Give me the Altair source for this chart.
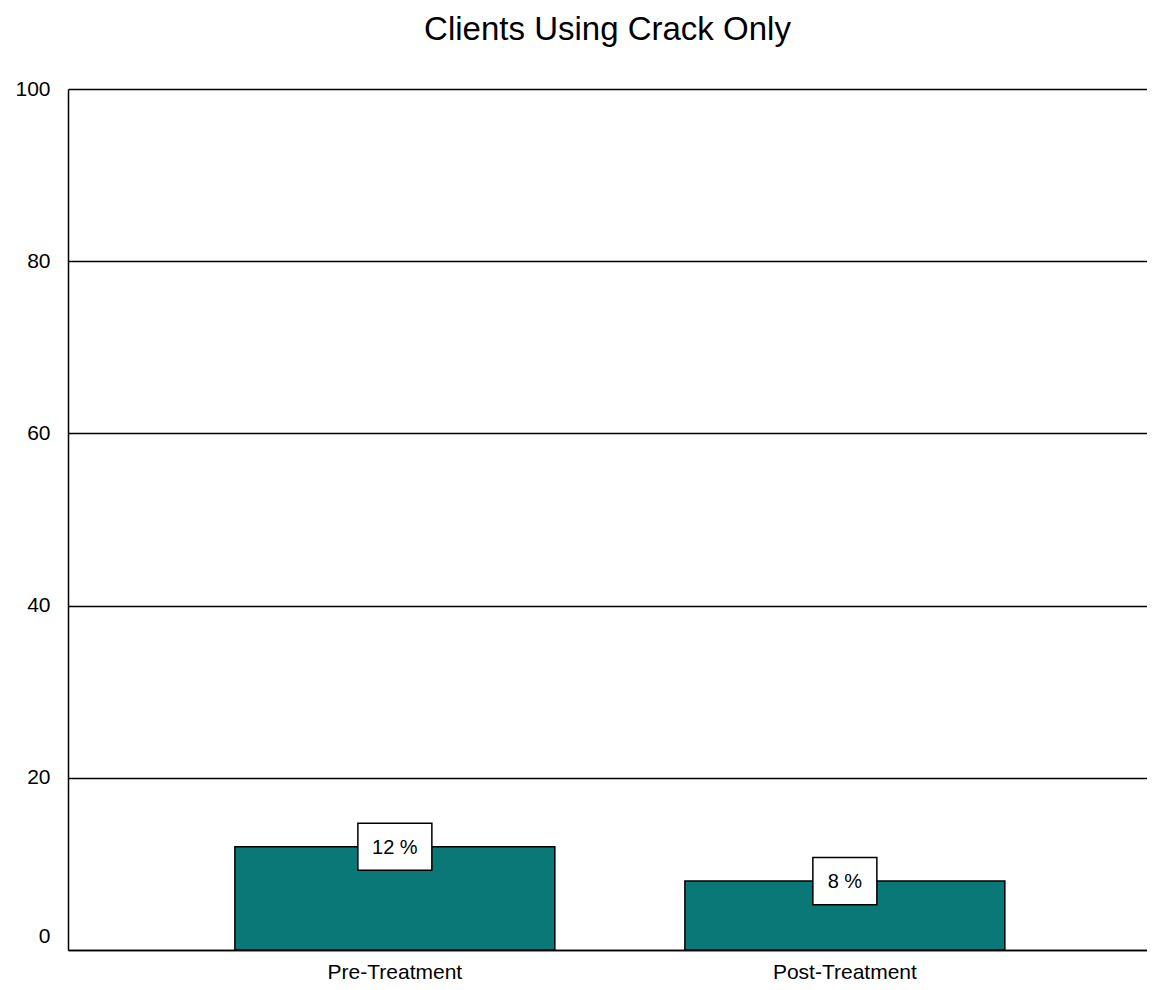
import altair as alt
import pandas as pd

title_text = ["Clients Using Crack Only"]
categories = ["Pre-Treatment", "Post-Treatment"]
values = [12, 8]
labels = ["12 %", "8 %"]
y_ticks = [0, 20, 40, 60, 80, 100]

df = pd.DataFrame({"category": categories, "value": values, "label": labels})
tdf = pd.DataFrame({"title": title_text})

FONT = "Liberation Sans"
TEAL = "#0A7876"
W, H = 1079, 861

x_enc = alt.X(
    "category:N", sort=categories, title=None,
    scale=alt.Scale(paddingInner=0.289, paddingOuter=0.3434, align=0.54),
    axis=alt.Axis(labelAngle=0, ticks=False, domainColor="black", domainWidth=1.5,
                  labelPadding=11, labelFontSize=21, labelColor="black", labelFont=FONT),
)
y_enc = alt.Y(
    "value:Q", title=None, scale=alt.Scale(domain=[0, 100], nice=False),
    axis=alt.Axis(values=y_ticks, ticks=False, grid=True, gridColor="black", gridWidth=1.5,
                  domainColor="black", domainWidth=1.5, labelPadding=18, labelFontSize=21,
                  labelColor="black", labelFont=FONT, labelBaseline="middle",
                  labelOffset={"condition": {"test": "datum.value === 0", "value": -14}, "value": 0}),
)

bars = alt.Chart(df).mark_bar(color=TEAL, stroke="black", strokeWidth=1.5).encode(x=x_enc, y=y_enc)

boxes = (
    alt.Chart(df)
    .transform_calculate(lo="datum.value - 2.73", hi="datum.value + 2.73",
                         w="length(datum.label) * 10 + 34")
    .mark_bar(fill="white", stroke="black", strokeWidth=1.5)
    .encode(
        x=alt.X("category:N", sort=categories, title=None),
        y=alt.Y("lo:Q", title=None),
        y2="hi:Q",
        size=alt.Size("w:Q", scale=None, legend=None),
    )
)

text = (
    alt.Chart(df)
    .mark_text(font=FONT, fontSize=20, color="black", baseline="middle", dy=1)
    .encode(
        x=alt.X("category:N", sort=categories, title=None),
        y=alt.Y("value:Q", title=None),
        text="label:N",
    )
)

title = (
    alt.Chart(tdf)
    .mark_text(font=FONT, fontSize=33, color="black", baseline="alphabetic", align="center")
    .encode(x=alt.value(W / 2), y=alt.value(-49), text="title:N")
)

chart = (
    alt.layer(bars, boxes, text, title)
    .properties(
        width=W, height=H,
        autosize=alt.AutoSizeParams(type="none"),
        padding={"left": 60, "top": 81, "right": 0, "bottom": 32},
    )
    .configure_view(stroke=None)
    .configure(background="white")
)

chart.save("out.html", embed_options={"renderer": "svg", "actions": False})
